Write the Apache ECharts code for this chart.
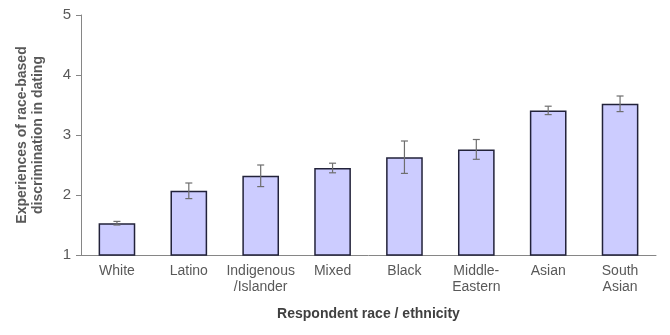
<!DOCTYPE html>
<html>
<head>
<meta charset="utf-8">
<style>
  html, body { margin: 0; padding: 0; background: #ffffff; }
  #chart { width: 670px; height: 335px; }
</style>
<script src="https://cdn.jsdelivr.net/npm/echarts@6/dist/echarts.min.js"></script>
</head>
<body>
<div id="chart"></div>
<script>
// Mean experiences of race-based discrimination in dating, by respondent group
const categories = ['White', 'Latino', 'Indigenous\n/Islander', 'Mixed', 'Black', 'Middle-\nEastern', 'Asian', 'South\nAsian'];
const means = [1.53, 2.07, 2.32, 2.45, 2.63, 2.76, 3.41, 3.52];
const errors = [0.03, 0.13, 0.18, 0.08, 0.27, 0.165, 0.07, 0.13];
const yTicks = [1, 2, 3, 4, 5];

const chart = echarts.init(document.getElementById('chart'), null, { renderer: 'canvas' });

const font = '"Liberation Sans", Arial, sans-serif';

chart.setOption({
  animation: false,
  backgroundColor: '#ffffff',
  grid: { left: 81, right: 14, top: 15, bottom: 80, containLabel: false, outerBoundsMode: 'none' },
  xAxis: {
    type: 'category',
    data: categories,
    name: 'Respondent race / ethnicity',
    nameLocation: 'middle',
    nameGap: 52,
    nameTextStyle: { fontFamily: font, fontSize: 14, fontWeight: 'bold', color: '#404040' },
    axisLine: { lineStyle: { color: '#868686', width: 1 } },
    axisTick: { show: false },
    axisLabel: { fontFamily: font, fontSize: 14, color: '#595959', margin: 8, lineHeight: 16, interval: 0 }
  },
  yAxis: {
    type: 'value',
    min: yTicks[0],
    max: yTicks[yTicks.length - 1],
    interval: 1,
    name: 'Experiences of race-based\ndiscrimination in dating',
    nameLocation: 'middle',
    nameGap: 35,
    nameTextStyle: { fontFamily: font, fontSize: 14, fontWeight: 'bold', color: '#595959', lineHeight: 16 },
    splitLine: { show: false },
    axisLine: { show: true, lineStyle: { color: '#868686', width: 1 } },
    axisTick: { show: true, length: 5, lineStyle: { color: '#868686' } },
    axisLabel: { fontFamily: font, fontSize: 15, color: '#595959', margin: 10 }
  },
  series: [
    {
      type: 'bar',
      data: means,
      barWidth: '51%',
      itemStyle: { color: '#ccccff', borderColor: '#22223a', borderWidth: 1.5 }
    },
    {
      type: 'custom',
      data: means.map((m, i) => [i, m - errors[i], m + errors[i]]),
      z: 10,
      renderItem: function (params, api) {
        const lo = api.coord([api.value(0), api.value(1)]);
        const hi = api.coord([api.value(0), api.value(2)]);
        const x = lo[0];
        const half = 3.5;
        const style = { stroke: '#6e6e6e', lineWidth: 1.2 };
        return {
          type: 'group',
          children: [
            { type: 'line', shape: { x1: x, y1: lo[1], x2: x, y2: hi[1] }, style: style },
            { type: 'line', shape: { x1: x - half, y1: lo[1], x2: x + half, y2: lo[1] }, style: style },
            { type: 'line', shape: { x1: x - half, y1: hi[1], x2: x + half, y2: hi[1] }, style: style }
          ]
        };
      }
    }
  ]
});
</script>
</body>
</html>
